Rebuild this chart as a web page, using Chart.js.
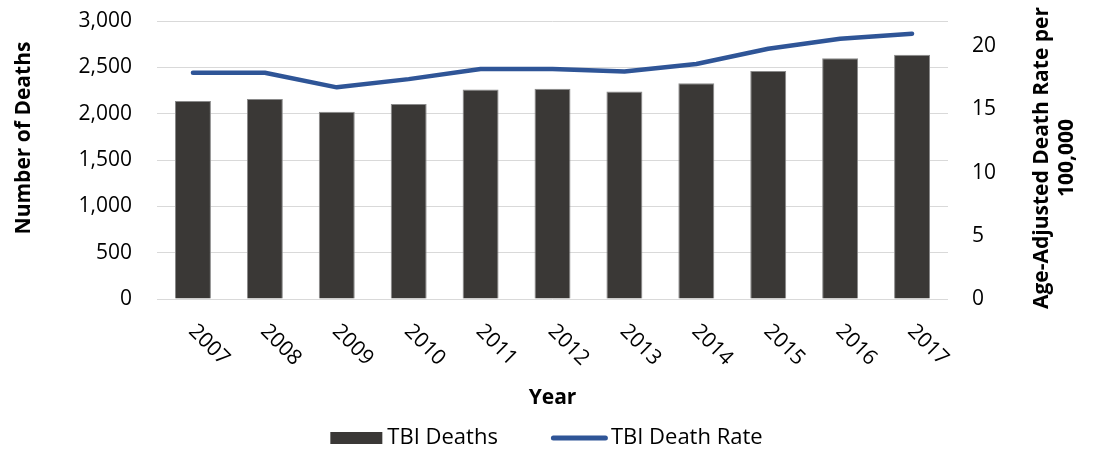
<!DOCTYPE html>
<html>
<head>
<meta charset="utf-8">
<script src="https://cdn.jsdelivr.net/npm/chart.js@4/dist/chart.umd.min.js"></script>
<style>
  html, body { margin: 0; padding: 0; background: #fff; }
  #wrap { width: 1098px; height: 449px; position: relative; }
</style>
</head>
<body>
<div id="wrap"><canvas id="c"></canvas></div>
<script>
// Categories and series
const years = ['2007', '2008', '2009', '2010', '2011', '2012', '2013', '2014', '2015', '2016', '2017'];
const tbiDeaths = [2136, 2158, 2021, 2104, 2262, 2268, 2240, 2329, 2461, 2598, 2637];
const tbiDeathRate = [17.9, 17.9, 16.75, 17.4, 18.2, 18.2, 18.0, 18.6, 19.8, 20.6, 21.0];

// Axis ranges and labels
const deathsAxis = { min: 0, max: 3000, step: 500 };
const rateAxis = { min: 0, max: 22, step: 5 };
const xTitle = 'Year';
const leftTitle = 'Number of Deaths';
const rightTitle = ['Age-Adjusted Death Rate per', '100,000'];
const seriesNames = ['TBI Deaths', 'TBI Death Rate'];

const FONT = "'Open Sans', 'DejaVu Sans', sans-serif";
const BAR_FILL = '#3a3836';
const BAR_EDGE = '#8a8a8a';
const LINE_BLUE = '#2f5597';
const TEXT = '#000000';

// Draws rotated category labels, axis titles and the legend
const decorations = {
  id: 'decorations',
  afterDraw(chart) {
    const ctx = chart.ctx;
    const area = chart.chartArea;
    const xs = chart.scales.x;

    ctx.save();
    ctx.fillStyle = TEXT;

    // Category labels, slanted downward at 45 degrees
    ctx.font = '21px ' + FONT;
    ctx.textAlign = 'left';
    ctx.textBaseline = 'middle';
    years.forEach((label, i) => {
      const px = xs.getPixelForValue(i);
      ctx.save();
      ctx.translate(px - 1, area.bottom + 29);
      ctx.rotate(Math.PI / 4);
      ctx.fillText(label, 0, 0);
      ctx.restore();
    });

    // Axis titles
    ctx.font = 'bold 21px ' + FONT;
    ctx.textAlign = 'center';
    ctx.textBaseline = 'middle';
    const midY = (area.top + area.bottom) / 2;
    ctx.fillText(xTitle, (area.left + area.right) / 2, area.bottom + 99);

    ctx.save();
    ctx.translate(24, midY - 22);
    ctx.rotate(-Math.PI / 2);
    ctx.fillText(leftTitle, 0, 0);
    ctx.restore();

    ctx.save();
    ctx.translate(area.right + 94, midY - 2);
    ctx.rotate(-Math.PI / 2);
    rightTitle.forEach((line, k) => ctx.fillText(line, 0, k * 25));
    ctx.restore();

    // Legend
    ctx.font = '22px ' + FONT;
    ctx.textAlign = 'left';
    const ly = area.bottom + 139;
    const w1 = ctx.measureText(seriesNames[0]).width;
    const w2 = ctx.measureText(seriesNames[1]).width;
    const total = 52 + 5 + w1 + 53 + 57 + 3 + w2;
    let lx = (area.left + area.right) / 2 - 6 - total / 2;
    ctx.fillStyle = BAR_FILL;
    ctx.fillRect(lx, ly - 6, 52, 12);
    lx += 57;
    ctx.fillStyle = TEXT;
    ctx.fillText(seriesNames[0], lx, ly);
    lx += w1 + 53;
    ctx.strokeStyle = LINE_BLUE;
    ctx.lineWidth = 5;
    ctx.lineCap = 'round';
    ctx.beginPath();
    ctx.moveTo(lx + 2.5, ly);
    ctx.lineTo(lx + 54.5, ly);
    ctx.stroke();
    lx += 60;
    ctx.fillText(seriesNames[1], lx, ly);

    ctx.restore();
  }
};

const tickFont = { family: FONT, size: 21 };

// Value axes keep a fixed width and do not push the plot down for their labels
function fixVertical(width) {
  return function (s) {
    s.width = width;
    s.paddingTop = 0;
    s.paddingBottom = 0;
  };
}

new Chart(document.getElementById('c'), {
  data: {
    labels: years,
    datasets: [
      {
        type: 'line',
        label: seriesNames[1],
        data: tbiDeathRate,
        yAxisID: 'y2',
        borderColor: LINE_BLUE,
        backgroundColor: LINE_BLUE,
        borderWidth: 4.5,
        borderCapStyle: 'round',
        borderJoinStyle: 'round',
        pointRadius: 0,
        pointHoverRadius: 0,
        tension: 0,
        order: 0
      },
      {
        type: 'bar',
        label: seriesNames[0],
        data: tbiDeaths,
        yAxisID: 'y',
        backgroundColor: BAR_FILL,
        borderColor: BAR_EDGE,
        borderWidth: 1,
        categoryPercentage: 1,
        barPercentage: 0.5,
        order: 1
      }
    ]
  },
  options: {
    responsive: true,
    maintainAspectRatio: false,
    animation: false,
    devicePixelRatio: 1,
    layout: { padding: { top: 21, left: 0, right: 0, bottom: 0 } },
    plugins: {
      legend: { display: false },
      tooltip: { enabled: false }
    },
    scales: {
      x: {
        type: 'category',
        grid: { display: false },
        border: { display: false },
        ticks: { display: false },
        afterFit(s) { s.height = 150; }
      },
      y: {
        position: 'left',
        min: deathsAxis.min,
        max: deathsAxis.max,
        ticks: {
          stepSize: deathsAxis.step,
          padding: 25,
          color: TEXT,
          font: tickFont,
          callback: (v) => Number(v).toLocaleString('en-US')
        },
        grid: { color: '#d9d9d9', lineWidth: 1, drawTicks: false },
        border: { display: false },
        afterFit: fixVertical(157)
      },
      y2: {
        position: 'right',
        min: rateAxis.min,
        max: rateAxis.max,
        ticks: {
          stepSize: rateAxis.step,
          padding: 24,
          color: TEXT,
          font: tickFont
        },
        afterBuildTicks(s) {
          s.ticks = s.ticks.filter(t => t.value % rateAxis.step === 0);
        },
        grid: { display: false, drawTicks: false },
        border: { display: false },
        afterFit: fixVertical(150)
      }
    }
  },
  plugins: [decorations]
});
</script>
</body>
</html>
